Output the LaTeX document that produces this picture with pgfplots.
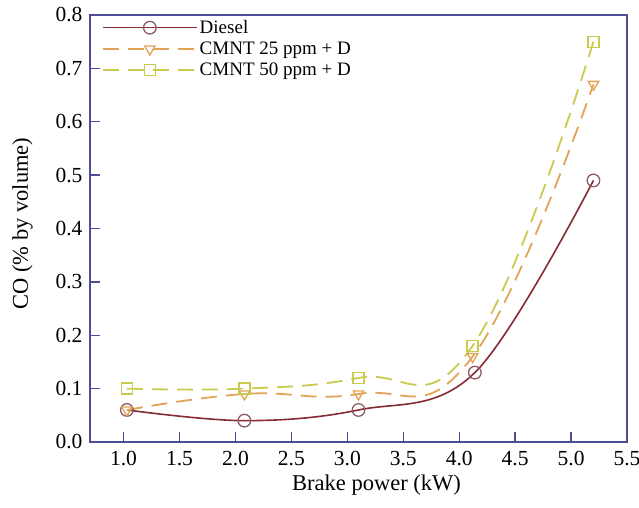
\documentclass[border=0pt]{standalone}
\usepackage{fontspec}
\setmainfont{Liberation Serif}
\usepackage{pgfplots}
\pgfplotsset{compat=1.18}
\definecolor{axcol}{HTML}{4E4E96}
\definecolor{dies}{HTML}{862B35}
\definecolor{diesm}{HTML}{8E5A62}
\definecolor{cm25}{HTML}{E3A356}
\definecolor{cm50}{HTML}{CACA4E}
\begin{document}
\begin{tikzpicture}
\begin{axis}[
  name=ax,
  scale only axis,
  width=537pt, height=427pt,
  xmin=0.7, xmax=5.5, ymin=0, ymax=0.8,
  xtick={1.0,1.5,...,5.5},
  ytick={0,0.1,...,0.8},
  tick pos=left,
  tick align=inside,
  major tick length=10pt,
  axis line style={axcol, line width=1.5pt},
  every tick/.style={axcol, line width=1.3pt},
  /pgf/number format/assume math mode=true,
  xticklabel style={yshift=-6pt,/pgf/number format/.cd,fixed,fixed zerofill,precision=1},
  yticklabel style={xshift=-4pt,/pgf/number format/.cd,fixed,fixed zerofill,precision=1},
  tick label style={font=\fontsize{21.5}{23}\selectfont},
  label style={font=\fontsize{22.5}{25}\selectfont},
  xlabel={Brake power (kW)},
  xlabel style={xshift=18pt, yshift=-2pt},
  ylabel={CO (\% by volume)},
  ylabel shift=16pt,
  ylabel style={xshift=5pt},
  legend style={at={(0.02,0.995)}, anchor=north west, draw=none, fill=none,
    font=\fontsize{19}{21}\selectfont, row sep=3pt, inner sep=1pt},
  legend cell align=left,
  legend image code/.code={\draw[mark repeat=2,mark phase=2,#1] plot coordinates {(0pt,0pt) (47pt,0pt) (94pt,0pt)};},
]
\addplot[dies, line width=1.6pt, smooth, tension=0.6, mark=o, mark size=6.3pt, mark options={diesm, solid, line width=1.3pt, fill=none}]
  coordinates {(1.03,0.06) (2.08,0.04) (3.1,0.06) (4.14,0.13) (5.2,0.49)};
\addlegendentry{Diesel}
\addplot[cm25, line width=1.8pt, dash pattern=on 16pt off 9pt, smooth, tension=0.75, mark=triangle, mark size=6pt, mark options={cm25, solid, rotate=180, line width=1.3pt, fill=none}]
  coordinates {(1.03,0.06) (2.08,0.09) (3.1,0.09) (4.12,0.16) (5.2,0.67)};
\addlegendentry{CMNT 25 ppm + D}
\addplot[cm50, line width=1.8pt, dash pattern=on 16pt off 9pt, smooth, tension=0.75, mark=square, mark size=5.5pt, mark options={cm50, solid, line width=1.3pt, fill=none}]
  coordinates {(1.03,0.10) (2.08,0.10) (3.1,0.12) (4.12,0.18) (5.2,0.75)};
\addlegendentry{CMNT 50 ppm + D}
\end{axis}
\pgfresetboundingbox
\path (ax.south west) ++(-90pt,-66pt) coordinate (bbA);
\path (ax.north east) ++(12pt,15pt) coordinate (bbB);
\path[use as bounding box] (bbA) rectangle (bbB);
\end{tikzpicture}
\end{document}
